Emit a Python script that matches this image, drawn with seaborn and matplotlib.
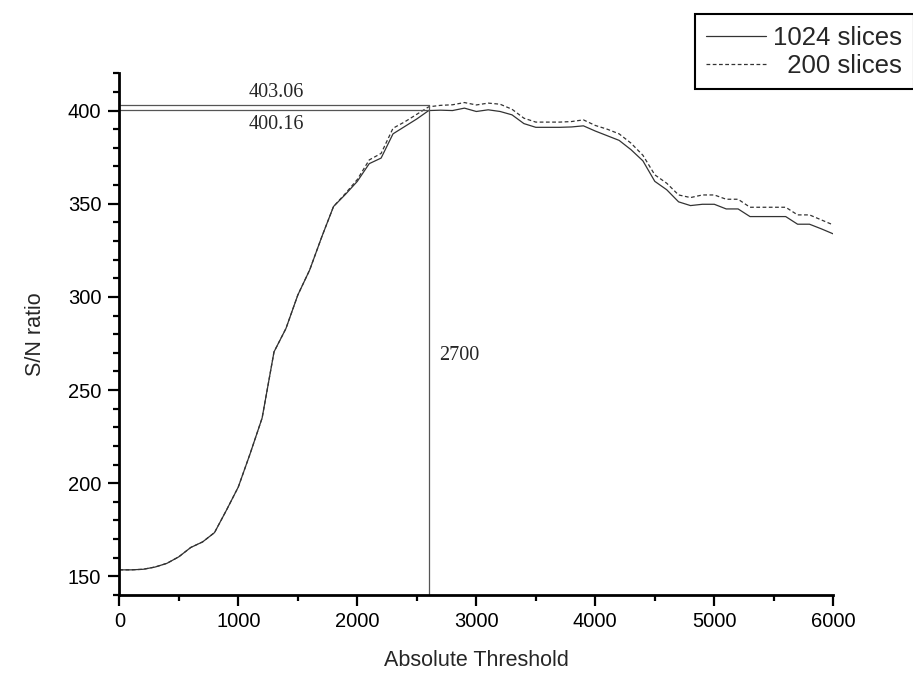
import numpy as np
import pandas as pd
import matplotlib
matplotlib.use('Agg')
import matplotlib.pyplot as plt
from matplotlib.ticker import MultipleLocator
import seaborn as sns

# Threshold values (x), one point every 100
threshold = list(range(0, 6100, 100))

sn1024 = [153.5, 153.5, 153.8, 155.0, 157.0, 160.5, 165.5, 168.5, 173.5, 185.5,
          198.0, 216.0, 235.0, 270.5, 283.0, 301.0, 314.5, 332.0, 348.5, 355.0,
          362.0, 371.5, 374.5, 387.5, 391.5, 395.5, 400.0, 400.2, 400.0, 401.3,
          399.5, 400.4, 399.5, 397.7, 393.0, 391.0, 391.0, 391.0, 391.2, 391.8,
          389.0, 386.5, 384.0, 379.0, 373.0, 362.0, 357.5, 351.0, 349.0, 349.7,
          349.7, 347.2, 347.2, 343.1, 343.1, 343.1, 343.1, 339.0, 339.0, 336.5,
          333.8]

sn200 = [153.5, 153.5, 153.8, 155.0, 157.0, 160.5, 165.5, 168.5, 173.5, 185.5,
         198.0, 216.0, 235.0, 270.5, 283.0, 301.0, 314.5, 332.0, 348.5, 355.5,
         363.0, 373.5, 377.0, 390.5, 394.0, 398.0, 402.0, 402.8, 403.1, 404.3,
         403.0, 404.0, 403.4, 400.7, 395.9, 393.8, 393.8, 393.8, 394.1, 395.0,
         392.0, 390.0, 387.5, 382.5, 376.0, 365.5, 361.0, 354.7, 353.3, 354.7,
         354.7, 352.4, 352.4, 348.1, 348.1, 348.1, 348.1, 344.0, 344.0, 341.3,
         338.6]

# Annotation of the optimum
optX = 2600
optLabel = '2700'
peak200, peak1024 = 403.06, 400.16

df = pd.DataFrame({'Absolute Threshold': threshold, '1024': sn1024, '200': sn200})

sns.set_style('ticks')
plt.rcParams['font.family'] = ['Liberation Sans', 'DejaVu Sans']

fig = plt.figure(figsize=(9.13, 6.73), dpi=100)
ax = fig.add_axes([0.1307, 0.1159, 0.7820, 0.7752])

sns.lineplot(ax=ax, data=df, x='Absolute Threshold', y='1024', color='#333333', lw=0.9,
             label='1024 slices')
sns.lineplot(ax=ax, data=df, x='Absolute Threshold', y='200', color='#333333', lw=0.9,
             dashes=False, label='  200 slices')
ax.lines[1].set_dashes([3, 2])

# optimum guide lines
ax.plot([0, optX], [peak200, peak200], color='#555555', lw=0.9)
ax.plot([0, optX], [peak1024, peak1024], color='#555555', lw=0.9)
ax.plot([optX, optX], [140, peak200], color='#555555', lw=0.9)

serif = ['Liberation Serif', 'DejaVu Serif']
ax.text(1323, 409.7, f'{peak200:.2f}', ha='center', va='center', fontsize=14.5, family=serif)
ax.text(1323, 392.3, f'{peak1024:.2f}', ha='center', va='center', fontsize=14.5, family=serif)
ax.text(2690, 268.8, optLabel, ha='left', va='center', fontsize=14.5, family=serif)

ax.set_xlim(0, 6000)
ax.set_ylim(140, 420)
ax.xaxis.set_major_locator(MultipleLocator(1000))
ax.xaxis.set_minor_locator(MultipleLocator(500))
ax.yaxis.set_major_locator(MultipleLocator(50))
ax.yaxis.set_minor_locator(MultipleLocator(10))
ax.set_yticks([150, 200, 250, 300, 350, 400])

for s in ['top', 'right']:
    ax.spines[s].set_visible(False)
for s in ['left', 'bottom']:
    ax.spines[s].set_linewidth(2)
    ax.spines[s].set_color('black')
ax.tick_params(which='major', length=8, width=1.6, labelsize=14.5, colors='black', pad=5)
ax.tick_params(axis='x', which='major', pad=4)
ax.tick_params(which='minor', length=4.5, width=1.6, colors='black')

ax.set_xlabel('Absolute Threshold', fontsize=15.5, labelpad=14)
ax.set_ylabel('S/N ratio', fontsize=15.5, labelpad=16)

ax.get_legend().remove()
leg = fig.legend(handles=ax.lines[:2], labels=['1024 slices', '  200 slices'],
                 loc='upper right', bbox_to_anchor=(1.015, 0.998),
                 fontsize=18.5, frameon=True, fancybox=False, framealpha=1,
                 edgecolor='black', handlelength=2.3, handletextpad=0.3,
                 borderpad=0.45, labelspacing=0.15)
leg.get_frame().set_linewidth(1.5)

plt.savefig('out.png', dpi=100)
plt.close()
